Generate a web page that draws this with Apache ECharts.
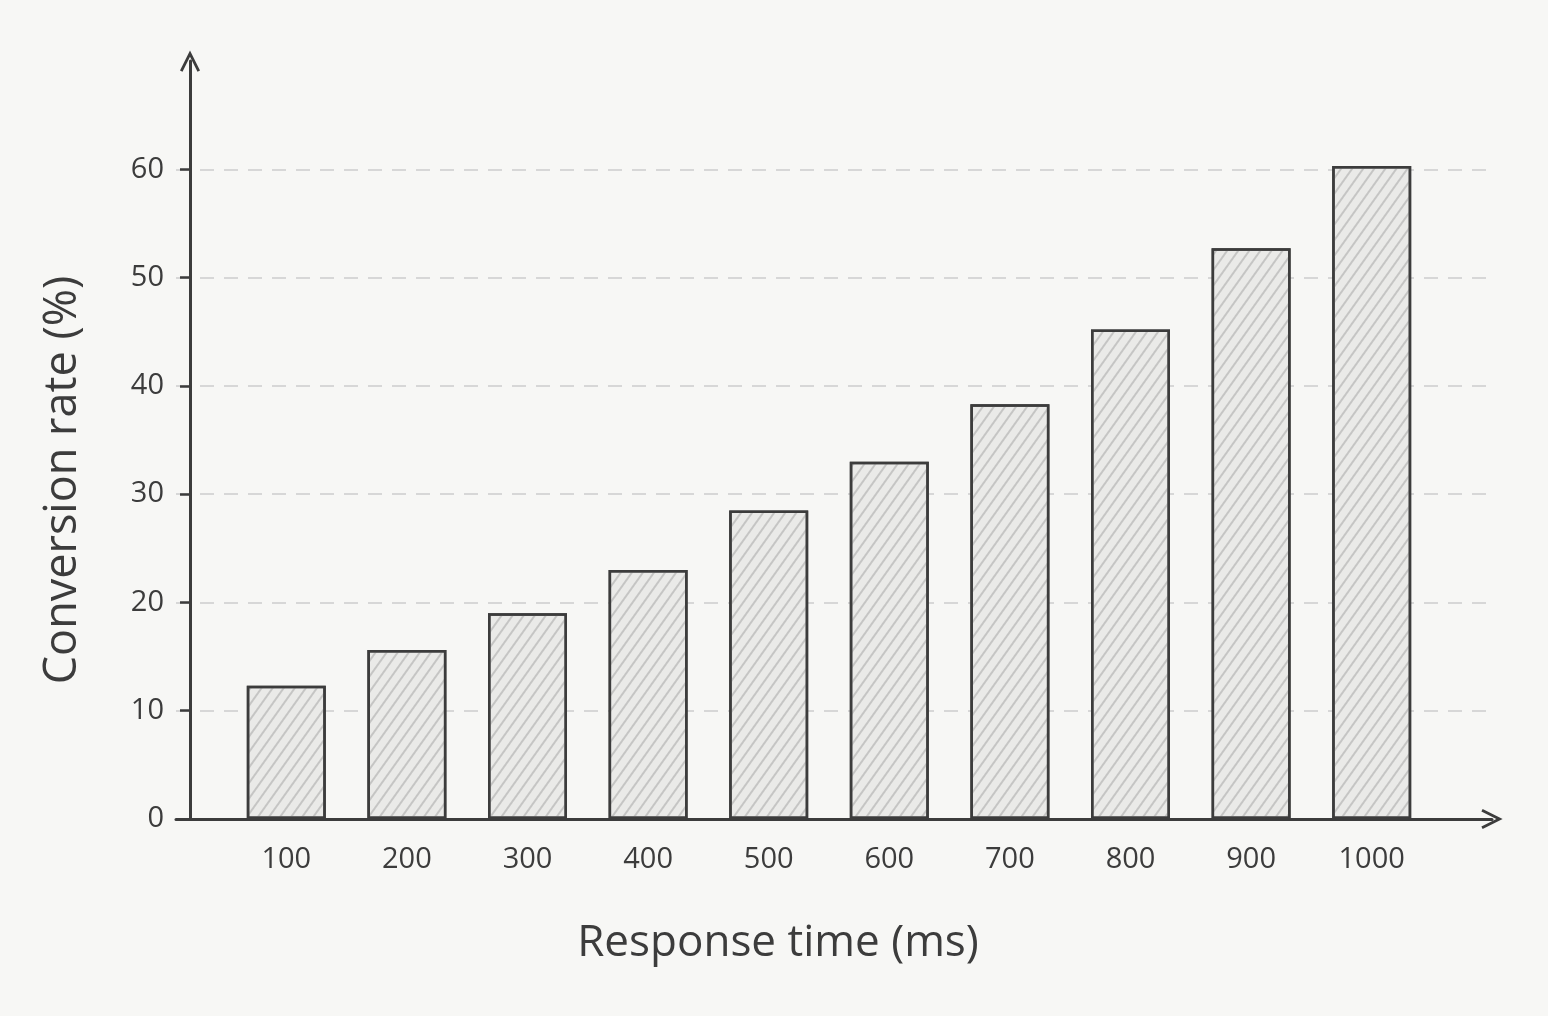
<!DOCTYPE html>
<html>
<head>
<meta charset="utf-8">
<script src="https://cdn.jsdelivr.net/npm/echarts@6/dist/echarts.min.js"></script>
<style>
html,body{margin:0;padding:0;background:#f7f7f5;}
#c{width:1548px;height:1016px;}
</style>
</head>
<body>
<div id="c"></div>
<script>
const categories = ['100','200','300','400','500','600','700','800','900','1000'];
const conversionRate = [12.3, 15.6, 19.0, 23.0, 28.5, 33.0, 38.3, 45.2, 52.7, 60.3];
const yTicks = [0, 10, 20, 30, 40, 50, 60];
const xAxisTitle = 'Response time (ms)';
const yAxisTitle = 'Conversion rate (%)';

const ink = '#3c3c3c';
const font = 'Open Sans';
const arrow = 'path://M0,16 L8,0 L16,16 L14,17 L8,5 L2,17 Z';

const chart = echarts.init(document.getElementById('c'), null, {renderer:'canvas'});
chart.setOption({
  backgroundColor: '#f7f7f5',
  animation: false,
  grid: [
    {left: 226, right: 116, top: 61, bottom: 197},
    {left: 176, right: 56, top: 61, bottom: 197}
  ],
  xAxis: [
    {
      type: 'category', gridIndex: 0, data: categories,
      axisLine: {show: false}, axisTick: {show: false},
      axisLabel: {color: ink, fontFamily: font, fontSize: 29, margin: 26},
      name: xAxisTitle, nameLocation: 'middle', nameGap: 102,
      nameTextStyle: {color: ink, fontFamily: font, fontSize: 44, padding: [0, 102, 0, 0]}
    },
    {
      type: 'value', gridIndex: 1, min: 0, max: 1,
      axisLine: {show: true, lineStyle: {color: ink, width: 3}, symbol: ['none', arrow], symbolSize: [20, 30]},
      axisTick: {show: false}, axisLabel: {show: false}, splitLine: {show: false}
    }
  ],
  yAxis: [
    {
      type: 'value', gridIndex: 0, min: 0, max: 70, interval: 10, offset: 36,
      axisLine: {show: true, lineStyle: {color: ink, width: 3}, symbol: ['none', arrow], symbolSize: [20, 30]},
      axisTick: {show: true, length: 10, lineStyle: {color: ink, width: 2.5}},
      axisLabel: {color: ink, fontFamily: font, fontSize: 29, margin: 26, showMaxLabel: false,
        formatter: v => yTicks.indexOf(v) >= 0 ? String(v) : ''},
      splitLine: {show: false},
      name: yAxisTitle, nameLocation: 'middle', nameGap: 104,
      nameTextStyle: {color: ink, fontFamily: font, fontSize: 45, padding: [0, 80, 0, 0]}
    },
    {
      type: 'value', gridIndex: 1, min: 0, max: 70, interval: 10,
      axisLine: {show: false}, axisTick: {show: false}, axisLabel: {show: false},
      splitLine: {show: true, showMinLine: false, showMaxLine: false,
        lineStyle: {color: '#cdcdcd', width: 1.5, type: [14, 10]}}
    }
  ],
  series: [{
    type: 'bar', xAxisIndex: 0, yAxisIndex: 0,
    data: conversionRate, barWidth: 79,
    itemStyle: {
      color: '#eaeae8', borderColor: ink, borderWidth: 2.5,
      decal: {symbol: 'rect', symbolSize: 1, color: 'rgba(130,130,130,0.35)',
        dashArrayX: [1, 0], dashArrayY: [1.5, 7], rotation: -0.95}
    },
    z: 3
  }]
});
</script>
</body>
</html>
